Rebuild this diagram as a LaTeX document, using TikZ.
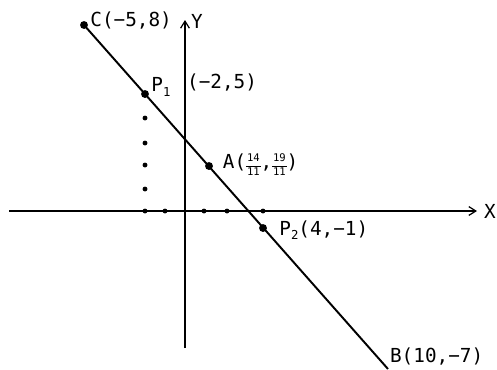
\documentclass[tikz,border=0pt]{standalone}
\usepackage{fontspec}
\setmainfont{DejaVu Sans Mono}
\usetikzlibrary{positioning, arrows.meta}

\newcommand{\minifrac}[2]{{\fontsize{6}{6}\selectfont\renewcommand{\arraystretch}{1.2}\setlength{\tabcolsep}{0.5pt}\begin{tabular}[c]{c}#1\\\hline #2\end{tabular}}}

\begin{document}
\begin{tikzpicture}[
            x=0.02cm, y=-0.02cm,
            font=\fontsize{11}{13}\selectfont,
            axis/.style={line width=0.7pt, -{Straight Barb[length=4pt, width=5pt]}},
            pline/.style={line width=1.1pt},
            bigdot/.style={circle, fill, inner sep=0pt, minimum size=4.5pt},
            smalldot/.style={circle, fill, inner sep=0pt, minimum size=2.8pt},
            lbl/.style={inner sep=1pt}
        ]
            \useasboundingbox (0,0) rectangle (497,369);

            \coordinate (xl) at (9,211);
            \coordinate (xr) at (477,211);
            \coordinate (yb) at (185,348);
            \coordinate (yt) at (185,20);
            \coordinate (b) at (388,369);

            \draw [axis] (xl) -- (xr);
            \draw [axis] (yb) -- (yt);

            \foreach \yy [count=\i] in {118,143,165,189} \node [smalldot] (v\i) at (145,\yy) {};
            \foreach \xx [count=\i] in {145,165,204,227,263} \node [smalldot] (t\i) at (\xx,211) {};

            \node [bigdot] (c) at (84,25) {};
            \node [bigdot] (p1) at (145,94) {};
            \node [bigdot] (a) at (209,166) {};
            \node [bigdot] (p2) at (263,228) {};

            \draw [pline] (c.center) -- (b);

            \node [lbl, right=0.1cm of xr] (xlab) {X};
            \node [lbl, right=0.08cm of yt, yshift=-0.02cm] (ylab) {Y};
            \node [lbl, right=0pt of c, yshift=0.08cm] (clab) {C(−5,8)};
            \node [lbl, right=0pt of p1, yshift=0.14cm] (p1lab) {P\raisebox{-0.4ex}{\scriptsize 1}};
            \node [lbl, right=0.25cm of p1lab, yshift=0.08cm] (p1co) {(−2,5)};
            \node [lbl, right=0.15cm of a] (alab) {A(\minifrac{14}{11},\minifrac{19}{11})};
            \node [lbl, right=0.2cm of p2, yshift=-0.04cm] (p2lab) {P\raisebox{-0.4ex}{\scriptsize 2}(4,−1)};
            \node [lbl, right=0pt of b, yshift=0.24cm] (blab) {B(10,−7)};

        \end{tikzpicture}
\end{document}
